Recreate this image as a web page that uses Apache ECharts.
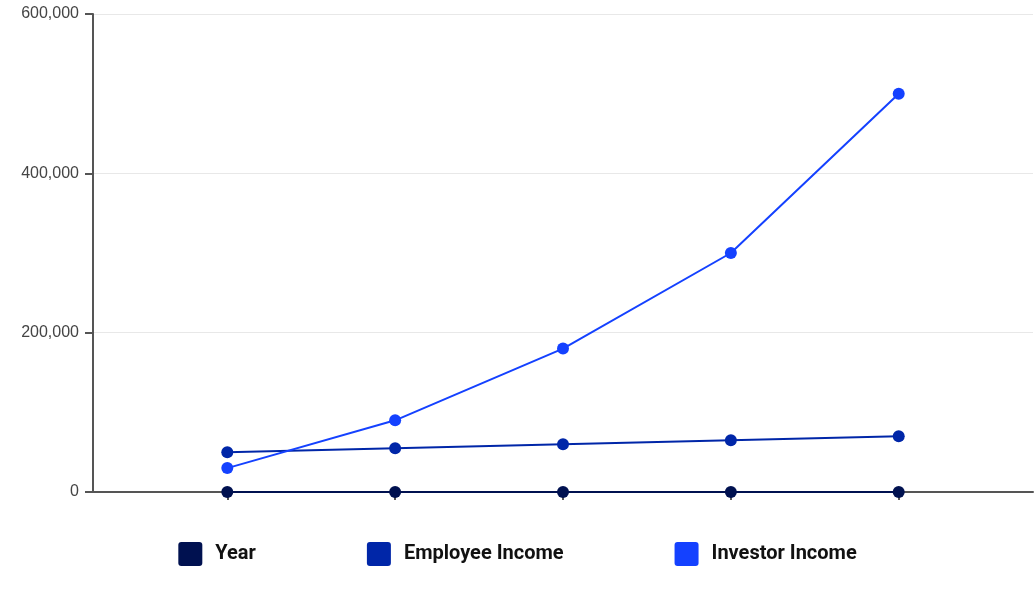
<!DOCTYPE html>
<html>
<head>
<meta charset="utf-8">
<script src="https://cdn.jsdelivr.net/npm/echarts@6/dist/echarts.min.js"></script>
<style>
  html, body { margin: 0; padding: 0; background: #fff; }
  #chart { width: 1035px; height: 600px; }
</style>
</head>
<body>
<div id="chart"></div>
<script>
// data
var years = [1, 2, 3, 4, 5];
var employeeIncome = [50000, 55000, 60000, 65000, 70000];
var investorIncome = [30000, 90000, 180000, 300000, 500000];
var seriesNames = ['Year', 'Employee Income', 'Investor Income'];
var seriesColors = ['#001150', '#0026a8', '#1441ff'];
var yTicks = [0, 200000, 400000, 600000];

// x position of each point = index of the year
var pos = years.map(function (y, i) { return i; });
function pairs(vals) {
  return vals.map(function (v, i) { return [pos[i], v]; });
}

var myChart = echarts.init(document.getElementById('chart'));
var option;

var mySeries = [years, employeeIncome, investorIncome].map(function (vals, i) {
  return {
    name: seriesNames[i],
    type: 'line',
    data: pairs(vals),
    symbol: 'circle',
    symbolSize: 12,
    color: seriesColors[i],
    lineStyle: { width: 2, color: seriesColors[i] },
    itemStyle: { color: seriesColors[i] }
  };
});

// small rounded square for the legend
var legendIcon = 'path://M3,0 H21 A3,3 0 0 1 24,3 V21 A3,3 0 0 1 21,24 H3 A3,3 0 0 1 0,21 V3 A3,3 0 0 1 3,0 Z';

option = {
  animation: false,
  grid: { left: 93, right: 2, top: 14, bottom: 108 },
  legend: {
    top: 537,
    left: 'center',
    icon: legendIcon,
    itemWidth: 24,
    itemHeight: 24,
    itemGap: 111,
    textStyle: { fontFamily: 'Roboto', fontSize: 20, fontWeight: 'bold', color: '#111', padding: [0, 0, 0, 8] },
    data: seriesNames
  },
  xAxis: {
    type: 'value',
    min: -0.8,
    max: pos[pos.length - 1] + 0.8,
    splitLine: { show: false },
    axisLine: { lineStyle: { color: '#555', width: 2 } },
    axisTick: { show: true, length: 8, customValues: pos, lineStyle: { color: '#555', width: 2 } },
    axisLabel: { show: false }
  },
  yAxis: {
    type: 'value',
    min: yTicks[0],
    max: yTicks[yTicks.length - 1],
    interval: 200000,
    axisLine: { show: true, onZero: false, lineStyle: { color: '#555', width: 2 } },
    axisTick: { show: true, length: 8, lineStyle: { color: '#555', width: 2 } },
    axisLabel: {
      margin: 14,
      fontFamily: 'Liberation Sans',
      fontSize: 16,
      color: '#444',
      formatter: function (v) { return v.toLocaleString('en-US'); }
    },
    splitLine: { lineStyle: { color: '#e8e8e8', width: 1 } }
  },
  series: mySeries
};

option && myChart.setOption(option);
</script>
</body>
</html>
